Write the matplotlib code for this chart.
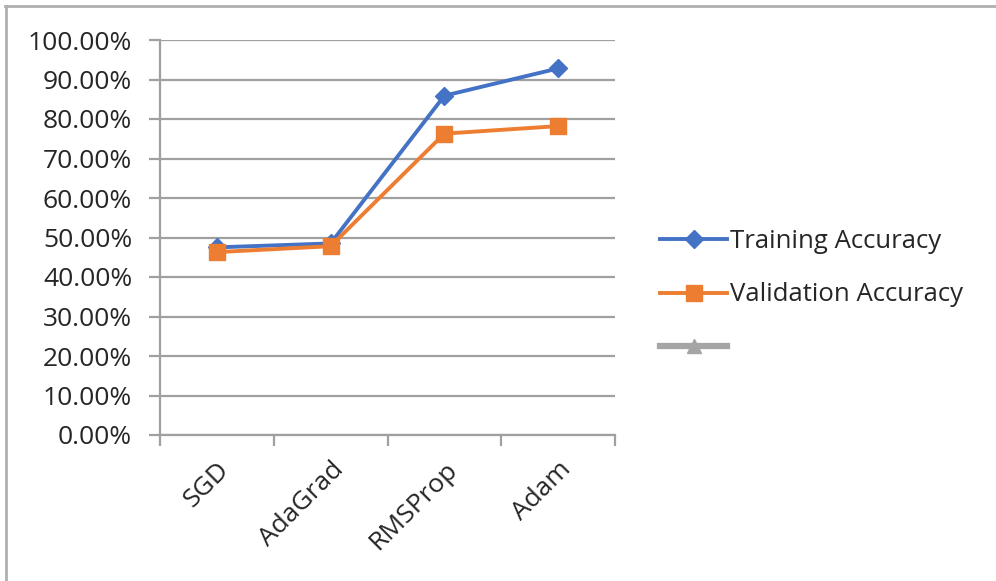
import matplotlib.pyplot as plt
from matplotlib.lines import Line2D
from matplotlib.ticker import FuncFormatter, FixedLocator

# accuracy per optimiser
optimizers = ['SGD', 'AdaGrad', 'RMSProp', 'Adam']
train_acc = [0.475, 0.485, 0.859, 0.928]
val_acc = [0.463, 0.478, 0.763, 0.782]
y_ticks = [i / 10 for i in range(11)]

plt.rcParams['font.family'] = ['Open Sans', 'DejaVu Sans']
txt_color = '#262626'
grid_color = '#a0a0a0'
fs = 19

fig = plt.figure(figsize=(9.96, 5.81), dpi=100)
ax = fig.add_axes([160/996, 146/581, 455/996, 395/581])

x = range(len(optimizers))
ax.plot(x, train_acc, color='#4472C4', lw=2.8, marker='D', ms=9.5,
        label='Training Accuracy', zorder=3)
ax.plot(x, val_acc, color='#ED7D31', lw=2.8, marker='s', ms=11.5,
        label='Validation Accuracy', zorder=3)
ax.plot([], [], color='#A5A5A5', lw=4.5, marker='^', ms=10, label=' ')

ax.set_xlim(-0.5, 3.5)
ax.set_ylim(0, 1)
ax.set_yticks(y_ticks)
ax.yaxis.set_major_formatter(FuncFormatter(lambda v, p: f'{v*100:.2f}%'))
ax.grid(axis='y', color=grid_color, lw=1.6, zorder=0)

# category labels centred, tick marks at boundaries
ax.set_xticks(list(x))
ax.set_xticklabels(optimizers, rotation=45, ha='right', rotation_mode='anchor',
                   fontsize=fs, color=txt_color)
ax.tick_params(axis='x', which='major', length=0, pad=16)
ax.xaxis.set_minor_locator(FixedLocator([-0.5, 0.5, 1.5, 2.5, 3.5]))
ax.tick_params(axis='x', which='minor', length=8, width=1.6, color=grid_color,
               direction='out')
ax.tick_params(axis='y', length=8, width=1.6, color=grid_color, labelsize=fs,
               labelcolor=txt_color, pad=12)

for s in ['top', 'right']:
    ax.spines[s].set_visible(False)
for s in ['left', 'bottom']:
    ax.spines[s].set_color(grid_color)
    ax.spines[s].set_linewidth(1.6)

leg = fig.legend(loc='center left', bbox_to_anchor=(637/996, 1 - 295/581),
                 frameon=False, fontsize=18.5, handlelength=2.6,
                 handletextpad=0.1, labelspacing=1.12, labelcolor=txt_color)

# outer chart border (top and left visible)
fig.add_artist(Line2D([5/996, 1], [1 - 6/581, 1 - 6/581], color='#b0b0b0',
                      lw=2, transform=fig.transFigure))
fig.add_artist(Line2D([6/996, 6/996], [0, 1 - 6/581], color='#b0b0b0',
                      lw=2, transform=fig.transFigure))

plt.savefig('out.png', dpi=100)
